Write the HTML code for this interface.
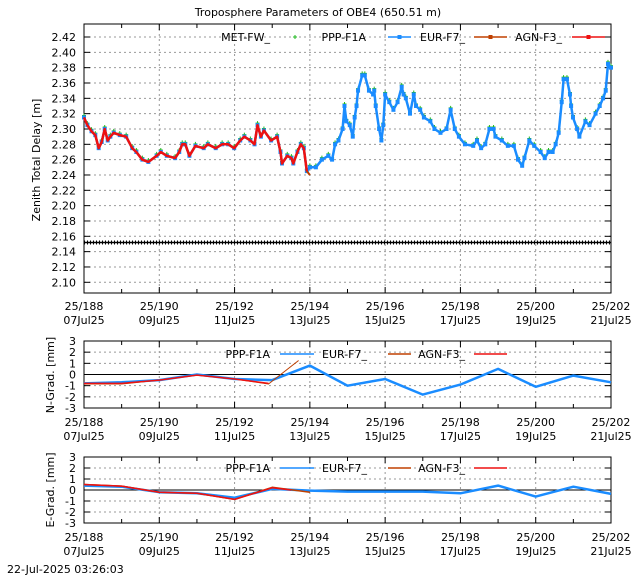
<!DOCTYPE html>
<html><head><meta charset="utf-8"><style>
html,body{margin:0;padding:0;background:#fff;width:640px;height:576px;overflow:hidden}
svg{display:block;font-family:"DejaVu Sans","Liberation Sans",sans-serif;font-size:11px}
</style></head><body>
<svg id="c" width="640" height="576" viewBox="0 0 640 576">
<text x="318" y="16" text-anchor="middle">Troposphere Parameters of OBE4 (650.51 m)</text>
<text x="0" y="0" transform="translate(40,160) rotate(-90)" text-anchor="middle">Zenith Total Delay [m]</text>
<text x="0" y="0" transform="translate(54,375) rotate(-90)" text-anchor="middle">N-Grad. [mm]</text>
<text x="0" y="0" transform="translate(54,490) rotate(-90)" text-anchor="middle">E-Grad. [mm]</text>
<text x="7" y="573">22-Jul-2025 03:26:03</text>
<g id="layer"></g>
</svg>
<script>
const dayTicks=[188,190,192,194,196,198,200,202];
const dateLabels=["07Jul25","09Jul25","11Jul25","13Jul25","15Jul25","17Jul25","19Jul25","21Jul25"];
const ztdTicks=[2.10,2.12,2.14,2.16,2.18,2.20,2.22,2.24,2.26,2.28,2.30,2.32,2.34,2.36,2.38,2.40,2.42];
const gradTicks=[-3,-2,-1,0,1,2,3];
const refZtd=2.152;
const agnDays=[188.0,188.09,188.2,188.3,188.39,188.47,188.55,188.63,188.7,188.79,188.95,189.12,189.28,189.39,189.55,189.71,189.93,190.04,190.2,190.42,190.53,190.61,190.69,190.8,190.96,191.18,191.29,191.5,191.67,191.83,191.99,192.15,192.26,192.42,192.53,192.61,192.7,192.78,192.97,193.13,193.22,193.26,193.4,193.51,193.56,193.67,193.76,193.84,193.92];
const agnZtd=[2.315,2.305,2.297,2.292,2.275,2.283,2.30,2.285,2.29,2.295,2.292,2.29,2.275,2.27,2.26,2.257,2.265,2.27,2.265,2.262,2.27,2.28,2.28,2.265,2.278,2.275,2.28,2.275,2.28,2.28,2.275,2.285,2.29,2.285,2.28,2.305,2.29,2.298,2.285,2.29,2.27,2.255,2.265,2.262,2.255,2.27,2.28,2.275,2.245];
const eurDays=agnDays.concat([194.0]);
const eurZtd=agnZtd.concat([2.24]);
const pppLateDays=[194.0,194.16,194.32,194.49,194.59,194.67,194.76,194.87,194.92,194.97,195.06,195.14,195.19,195.24,195.28,195.39,195.46,195.57,195.68,195.71,195.75,195.84,195.9,195.95,196.0,196.11,196.22,196.33,196.44,196.49,196.55,196.66,196.76,196.82,196.93,197.03,197.2,197.31,197.47,197.63,197.74,197.85,197.96,198.12,198.34,198.44,198.55,198.66,198.77,198.88,198.93,199.1,199.26,199.42,199.53,199.64,199.7,199.83,199.96,200.13,200.24,200.34,200.45,200.53,200.61,200.69,200.74,200.83,200.91,200.94,200.99,201.1,201.16,201.32,201.43,201.59,201.7,201.79,201.86,201.92,202.0];
const pppLateZtd=[2.25,2.25,2.26,2.265,2.26,2.28,2.285,2.30,2.33,2.31,2.305,2.29,2.315,2.33,2.35,2.37,2.37,2.35,2.345,2.35,2.33,2.30,2.285,2.305,2.345,2.335,2.325,2.335,2.355,2.345,2.34,2.32,2.345,2.33,2.325,2.315,2.31,2.30,2.295,2.30,2.325,2.30,2.29,2.28,2.278,2.285,2.275,2.28,2.30,2.30,2.29,2.285,2.278,2.278,2.26,2.252,2.262,2.285,2.278,2.27,2.262,2.27,2.27,2.28,2.295,2.335,2.365,2.365,2.345,2.33,2.315,2.30,2.29,2.31,2.305,2.32,2.33,2.34,2.35,2.385,2.38];
const pppDays=agnDays.concat(pppLateDays);
const pppZtd=agnZtd.concat(pppLateZtd);
const gradDays=[188,189,190,191,192,193,194,195,196,197,198,199,200,201,202];
const pppNGrad=[-0.8,-0.7,-0.5,0,-0.4,-0.5,0.8,-1.0,-0.4,-1.8,-0.9,0.5,-1.1,-0.1,-0.7];
const pppEGrad=[0.4,0.3,-0.2,-0.3,-0.7,0.1,-0.05,-0.15,-0.15,-0.15,-0.3,0.4,-0.6,0.3,-0.35];
const agnGradDays=[188,189,190,191,192,192.9];
const agnNGrad=[-0.8,-0.8,-0.5,-0.05,-0.4,-0.8];
const agnEGradDays=[188,189,190,191,192,193,193.5];
const agnEGrad=[0.5,0.35,-0.2,-0.3,-0.85,0.2,0.0];
const eurNGradDays=[188,189,190,191,192,192.9,193.7];
const eurNGrad=[-0.85,-0.85,-0.5,-0.05,-0.4,-0.85,1.25];
const eurEGradDays=[188,189,190,191,192,193,194];
const eurEGrad=[0.5,0.35,-0.2,-0.3,-0.85,0.25,-0.2];

const NS='http://www.w3.org/2000/svg';
const L=document.getElementById('layer');
function mk(tag,at,parent){const e=document.createElementNS(NS,tag);for(const k in at)e.setAttribute(k,at[k]);(parent||L).appendChild(e);return e;}
const X0=84,X1=611;
function xs(d){return X0+(d-188)/(202-188)*(X1-X0);}
const main={top:24,bot:293,y:v=>37+(2.42-v)/0.32*245.3};
const np={top:341,bot:408,y:v=>341+(3-v)/6*67};
const ep={top:457,bot:523,y:v=>457+(3-v)/6*66};
function path(days,vals,yf){return days.map((d,i)=>(i?'L':'M')+xs(d).toFixed(1)+','+yf(vals[i]).toFixed(1)).join('');}

function frame(p,ticks,fmt,name,y1,y2,zeroLine){
  const g=mk('g',{});
  
  
  ticks.forEach(t=>{const y=p.y(t);
    if(t!==0||!zeroLine){const gl=mk('line',{x1:X0,x2:X1,y1:y,y2:y,stroke:'#999','stroke-dasharray':'2,3','stroke-width':1},g);}
    const tl=mk('text',{x:76,y:y+4,'text-anchor':'end'},g);tl.textContent=fmt(t);
    
    mk('line',{x1:X0,x2:X0+6,y1:y,y2:y,stroke:'#000'},g);mk('line',{x1:X1,x2:X1-6,y1:y,y2:y,stroke:'#000'},g);
  });
  for(let d=188;d<=202;d++){const x=xs(d);
    const len=d%2===0?6:4;
    if(d%2===0&&d>188&&d<202){const vl=mk('line',{x1:x,x2:x,y1:p.top,y2:p.bot,stroke:'#999','stroke-dasharray':'2,3'},g);}
    mk('line',{x1:x,x2:x,y1:p.bot,y2:p.bot-len,stroke:'#000'},g);mk('line',{x1:x,x2:x,y1:p.top,y2:p.top+len,stroke:'#000'},g);
  }
  dayTicks.forEach((d,i)=>{const x=xs(d);
    const a=mk('text',{x:x,y:y1,'text-anchor':'middle'},g);a.textContent='25/'+d;
    
    const b=mk('text',{x:x,y:y2,'text-anchor':'middle'},g);b.textContent=dateLabels[i];
    
  });
  if(zeroLine)mk('line',{x1:X0,x2:X1,y1:p.y(0),y2:p.y(0),stroke:'#000'},g);
  const r=mk('rect',{x:X0,y:p.top,width:X1-X0,height:p.bot-p.top,fill:'none',stroke:'#000'},g);
  
}
frame(main,ztdTicks,v=>v.toFixed(2),'ztd',310,324,false);
frame(np,gradTicks,v=>String(v),'ngrad',426,440,true);
frame(ep,gradTicks,v=>String(v),'egrad',541,555,true);

const ry=main.y(refZtd);
const rl=mk('line',{x1:X0,x2:X1,y1:ry,y2:ry,stroke:'#000','stroke-width':1.5});

const rt=mk('line',{x1:X0,x2:X1,y1:ry,y2:ry,stroke:'#000','stroke-width':4,'stroke-dasharray':'1,2'});


const met=mk('g',{stroke:'#1fb81f','stroke-width':1});

pppDays.forEach((d,i)=>{const x=xs(d),y=main.y(pppZtd[i])-2;
  const m=mk('path',{d:`M${x-2},${y}h4M${x},${y-2}v4`},met);
  });

function series(days,vals,yf,color,w,name){const p=mk('path',{d:path(days,vals,yf),fill:'none',stroke:color,'stroke-width':w,'stroke-linejoin':'round'});
  return p;}
series(pppDays,pppZtd,main.y,'#1a8cff',2.5,'ppp-f1a-ztd-line');
const pm=mk('g',{fill:'#1a8cff'});
pppDays.forEach((d,i)=>{const s=mk('rect',{x:xs(d)-2,y:main.y(pppZtd[i])-2,width:4,height:4},pm);});
series(eurDays,eurZtd,main.y,'#c04000',2,'eur-f7-ztd-line');
series(agnDays,agnZtd,main.y,'#ee1111',2.5,'agn-f3-ztd-line');

series(gradDays,pppNGrad,np.y,'#1a8cff',2.5,'ppp-f1a-ngrad-line');
series(eurNGradDays,eurNGrad,np.y,'#c04000',1,'eur-f7-ngrad-line');
series(agnGradDays,agnNGrad,np.y,'#ee1111',1.5,'agn-f3-ngrad-line');
series(gradDays,pppEGrad,ep.y,'#1a8cff',2.5,'ppp-f1a-egrad-line');
series(eurEGradDays,eurEGrad,ep.y,'#c04000',1.5,'eur-f7-egrad-line');
series(agnEGradDays,agnEGrad,ep.y,'#ee1111',1.5,'agn-f3-egrad-line');

function legend(y,items,name){const g=mk('g',{});
  items.forEach(it=>{const t=mk('text',{x:it[1],y:y+4,'text-anchor':'end'},g);t.textContent=it[0];
    
    if(it[2]==='dot'){mk('path',{d:`M${it[3]-2},${y}h4M${it[3]},${y-2}v4`,stroke:'#1fb81f'},g);}
    else{mk('line',{x1:it[3],x2:it[4],y1:y,y2:y,stroke:it[2],'stroke-width':it[5]||1.5},g);
      if(it[6])mk('rect',{x:(it[3]+it[4])/2-2,y:y-2,width:4,height:4,fill:it[2]},g);}
  });}
legend(37,[['MET-FW_',270,'dot',295],['PPP-F1A',366,'#1a8cff',388,411,1.5,1],['EUR-F7_',465,'#c04000',474,507,1.5,1],['AGN-F3_',562,'#ee1111',572,605,1.5,1]],'ztd-legend');
legend(354,[['PPP-F1A',270,'#1a8cff',280,314],['EUR-F7_',367,'#c04000',388,411],['AGN-F3_',465,'#ee1111',474,507]],'ngrad-legend');
legend(468,[['PPP-F1A',270,'#1a8cff',280,314],['EUR-F7_',367,'#c04000',388,411],['AGN-F3_',465,'#ee1111',474,507]],'egrad-legend');
</script>
</body></html>
